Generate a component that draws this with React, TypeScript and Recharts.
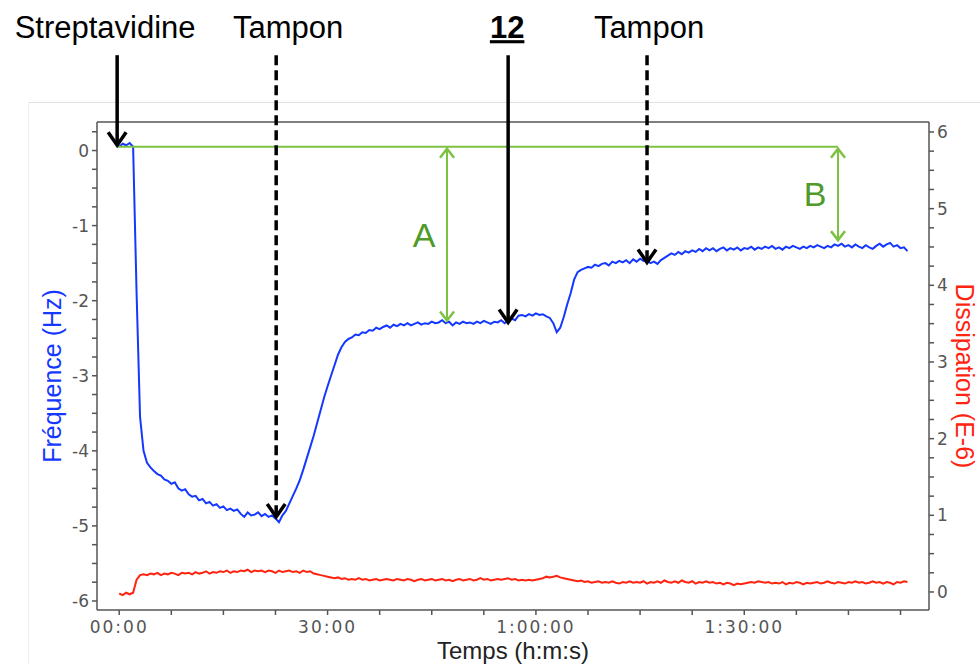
import React from 'react'
import { LineChart, Line, XAxis, YAxis, ReferenceLine } from 'recharts'

// sampling step of the QCM-D trace, in minutes
const STEP_MIN = 0.5

// Fréquence (Hz), one value every 0.5 min from 00:00
const FREQ = [
  0.05, 0.09, 0.07, 0.10, 0.05, -1.90, -3.55, -4.00, -4.16, -4.22,
  -4.27, -4.31, -4.33, -4.38, -4.40, -4.44, -4.42, -4.50, -4.53, -4.51,
  -4.58, -4.61, -4.60, -4.66, -4.64, -4.70, -4.68, -4.73, -4.71, -4.76,
  -4.74, -4.79, -4.77, -4.80, -4.78, -4.84, -4.88, -4.82, -4.86, -4.85,
  -4.82, -4.87, -4.84, -4.88, -4.86, -4.90, -4.95, -4.86, -4.80, -4.70,
  -4.60, -4.50, -4.39, -4.25, -4.10, -3.95, -3.80, -3.63, -3.46, -3.29,
  -3.14, -3.00, -2.86, -2.72, -2.62, -2.55, -2.51, -2.49, -2.45, -2.46,
  -2.42, -2.43, -2.39, -2.40, -2.36, -2.38, -2.35, -2.33, -2.36, -2.32,
  -2.34, -2.31, -2.33, -2.30, -2.33, -2.31, -2.29, -2.32, -2.30, -2.31,
  -2.28, -2.30, -2.29, -2.26, -2.30, -2.28, -2.33, -2.29, -2.31, -2.28,
  -2.30, -2.29, -2.31, -2.28, -2.30, -2.27, -2.29, -2.31, -2.28, -2.29,
  -2.26, -2.30, -2.27, -2.24, -2.26, -2.20, -2.19, -2.21, -2.18, -2.20,
  -2.17, -2.19, -2.18, -2.21, -2.23, -2.30, -2.42, -2.36, -2.22, -2.05,
  -1.90, -1.72, -1.62, -1.59, -1.57, -1.55, -1.56, -1.52, -1.54, -1.51,
  -1.50, -1.53, -1.48, -1.50, -1.47, -1.49, -1.46, -1.50, -1.45, -1.48,
  -1.44, -1.47, -1.46, -1.50, -1.48, -1.51, -1.46, -1.43, -1.40, -1.37,
  -1.39, -1.35, -1.38, -1.34, -1.36, -1.33, -1.35, -1.31, -1.34, -1.30,
  -1.33, -1.30, -1.34, -1.31, -1.29, -1.33, -1.30, -1.32, -1.29, -1.33,
  -1.30, -1.31, -1.28, -1.32, -1.29, -1.31, -1.28, -1.30, -1.27, -1.31,
  -1.29, -1.32, -1.28, -1.30, -1.27, -1.29, -1.31, -1.28, -1.30, -1.27,
  -1.29, -1.26, -1.28, -1.30, -1.27, -1.29, -1.25, -1.27, -1.24, -1.28,
  -1.26, -1.29, -1.25, -1.28, -1.30, -1.26, -1.29, -1.31, -1.27, -1.24,
  -1.28, -1.25, -1.23, -1.28, -1.26, -1.30, -1.29, -1.34,
]

// Dissipation (E-6), same time grid
const DISS = [
  -0.02, -0.04, -0.01, -0.03, -0.01, 0.16, 0.22, 0.23, 0.22, 0.24,
  0.23, 0.25, 0.22, 0.24, 0.23, 0.25, 0.24, 0.22, 0.25, 0.24,
  0.25, 0.23, 0.26, 0.24, 0.25, 0.27, 0.24, 0.26, 0.25, 0.27,
  0.26, 0.28, 0.25, 0.27, 0.26, 0.28, 0.27, 0.29, 0.26, 0.28,
  0.27, 0.28, 0.26, 0.28, 0.27, 0.25, 0.28, 0.26, 0.27, 0.28,
  0.26, 0.27, 0.25, 0.28, 0.26, 0.27, 0.24, 0.23, 0.22, 0.21,
  0.20, 0.19, 0.18, 0.19, 0.17, 0.18, 0.16, 0.17, 0.16, 0.18,
  0.16, 0.17, 0.15, 0.16, 0.17, 0.15, 0.16, 0.17, 0.16, 0.15,
  0.17, 0.16, 0.15, 0.17, 0.16, 0.14, 0.16, 0.17, 0.15, 0.16,
  0.17, 0.15, 0.16, 0.17, 0.15, 0.16, 0.14, 0.16, 0.17, 0.15,
  0.16, 0.17, 0.15, 0.16, 0.18, 0.16, 0.17, 0.15, 0.16, 0.17,
  0.16, 0.17, 0.18, 0.16, 0.17, 0.15, 0.16, 0.15, 0.16, 0.15,
  0.16, 0.17, 0.18, 0.20, 0.19, 0.20, 0.21, 0.19, 0.18, 0.17,
  0.16, 0.15, 0.14, 0.15, 0.13, 0.14, 0.12, 0.13, 0.14, 0.12,
  0.13, 0.12, 0.14, 0.12, 0.11, 0.13, 0.12, 0.14, 0.12, 0.13,
  0.12, 0.14, 0.11, 0.13, 0.12, 0.14, 0.12, 0.15, 0.13, 0.12,
  0.14, 0.12, 0.15, 0.13, 0.12, 0.14, 0.11, 0.13, 0.12, 0.14,
  0.12, 0.13, 0.11, 0.12, 0.10, 0.12, 0.11, 0.09, 0.11, 0.10,
  0.11, 0.12, 0.13, 0.12, 0.14, 0.13, 0.12, 0.13, 0.11, 0.12,
  0.11, 0.13, 0.10, 0.12, 0.11, 0.13, 0.12, 0.10, 0.12, 0.11,
  0.12, 0.13, 0.11, 0.12, 0.14, 0.12, 0.11, 0.13, 0.12, 0.11,
  0.13, 0.12, 0.14, 0.12, 0.13, 0.11, 0.12, 0.14, 0.12, 0.13,
  0.11, 0.13, 0.12, 0.10, 0.13, 0.12, 0.14, 0.13,
]

const TIME_TICKS = [0, 7.5, 15, 22.5, 30, 37.5, 45, 52.5, 60, 67.5, 75, 82.5, 90, 97.5, 105, 112.5]
const TIME_LABELS: Record<number, string> = { 0: '00:00', 30: '30:00', 60: '1:00:00', 90: '1:30:00' }
const FREQ_TICKS = [
  -6, -5.75, -5.5, -5.25, -5, -4.75, -4.5, -4.25, -4, -3.75, -3.5, -3.25, -3,
  -2.75, -2.5, -2.25, -2, -1.75, -1.5, -1.25, -1, -0.75, -0.5, -0.25, 0, 0.25,
]
const DISS_TICKS = [
  0, 0.25, 0.5, 0.75, 1, 1.25, 1.5, 1.75, 2, 2.25, 2.5, 2.75, 3,
  3.25, 3.5, 3.75, 4, 4.25, 4.5, 4.75, 5, 5.25, 5.5, 5.75, 6,
]

// injection arrows: time (min), level of the tip (Hz), caption
const INJECTIONS = [
  { t: -0.3, tip: 0.07, text: 'Streptavidine', dashed: false, bold: false, dx: -12 },
  { t: 22.6, tip: -4.88, text: 'Tampon', dashed: true, bold: false, dx: 12 },
  { t: 56.0, tip: -2.29, text: '12', dashed: false, bold: true, dx: -1 },
  { t: 76.0, tip: -1.49, text: 'Tampon', dashed: true, bold: false, dx: 2 },
]
const ARROW_TOP = 1.27

// baseline and the two shifts A and B
const BASELINE = 0.05
const BASELINE_START = -0.2
const SHIFTS = [
  { t: 47.2, to: -2.29, text: 'A' },
  { t: 103.5, to: -1.22, text: 'B' },
]

const data = FREQ.map((f, i) => ({ t: i * STEP_MIN, freq: f, diss: DISS[i] }))

const AXIS = '#555'
const BLUE = '#1438ff'
const RED = '#ff2410'
const GREEN = '#7cc242'
const GREEN_TEXT = '#4e9a2a'
const FONT = '"Liberation Sans", Arial, sans-serif'
const TICK_FONT = '"DejaVu Sans", Verdana, sans-serif'

const blackArrow = (a: typeof INJECTIONS[number]) => (p: any) => {
  const { x1, y1, x2, y2 } = p
  return (
    <g>
      <line x1={x1} y1={y1} x2={x2} y2={y2 - 2} stroke="#000" strokeWidth={3.5}
        strokeDasharray={a.dashed ? '10 5' : undefined} />
      <polyline points={`${x2 - 9},${y2 - 13} ${x2},${y2} ${x2 + 9},${y2 - 13}`}
        fill="none" stroke="#000" strokeWidth={3.5} />
      <text x={x1 + a.dx} y={y1 - 17} textAnchor="middle" fontFamily={FONT} fontSize={31}
        fontWeight={a.bold ? 700 : 400} textDecoration={a.bold ? 'underline' : undefined} fill="#000">
        {a.text}
      </text>
    </g>
  )
}

const greenArrow = (text: string) => (p: any) => {
  const { x1, y1, x2, y2 } = p
  const top = Math.min(y1, y2)
  const bot = Math.max(y1, y2)
  return (
    <g>
      <line x1={x1} y1={top + 1} x2={x2} y2={bot - 1} stroke={GREEN} strokeWidth={2} />
      <polyline points={`${x1 - 7},${top + 11} ${x1},${top + 2} ${x1 + 7},${top + 11}`}
        fill="none" stroke={GREEN} strokeWidth={2.5} />
      <polyline points={`${x1 - 7},${bot - 11} ${x1},${bot - 2} ${x1 + 7},${bot - 11}`}
        fill="none" stroke={GREEN} strokeWidth={2.5} />
      <text x={x1 - 23} y={(top + bot) / 2} textAnchor="middle" dominantBaseline="central"
        fontFamily={FONT} fontSize={34} fill={GREEN_TEXT}>{text}</text>
    </g>
  )
}

const yTitle = (text: string, color: string, cx: number, rot: number) => (p: any) => {
  const vb = p.viewBox || {}
  const cy = (vb.y ?? 122) + (vb.height ?? 488) / 2 + 10
  return (
    <text x={cx} y={cy} transform={`rotate(${rot} ${cx} ${cy})`} textAnchor="middle"
      dominantBaseline="central" fontFamily={FONT} fontSize={25} fill={color}>{text}</text>
  )
}

const xTitle = (p: any) => {
  const vb = p.viewBox || {}
  const cx = (vb.x ?? 97) + (vb.width ?? 832) / 2
  return (
    <text x={cx} y={659} textAnchor="middle" fontFamily={FONT} fontSize={24} fill="#222">
      Temps (h:m:s)
    </text>
  )
}

const tickStyle = { fontFamily: TICK_FONT, fontSize: 17, fill: '#555' }
const xTickStyle = { ...tickStyle, letterSpacing: 2 }

export default function App() {
  return (
    <div style={{ position: 'absolute', left: 0, top: 0, width: 980, height: 664, background: '#fff', overflow: 'hidden' }}>
      <div style={{ position: 'absolute', left: 28, top: 102, width: 952, height: 0, borderTop: '1px solid #e2e2e2' }} />
      <div style={{ position: 'absolute', left: 28, top: 102, width: 0, height: 562, borderLeft: '1px solid #eeeeee' }} />
      <div style={{ position: 'absolute', left: 0, top: 0 }}>
        <LineChart width={980} height={664} data={data} margin={{ top: 122, right: 0, bottom: 0, left: 0 }}>
          <XAxis dataKey="t" type="number" domain={[-3.2, 116.6]} ticks={TIME_TICKS} allowDataOverflow
            tickFormatter={(v: number) => TIME_LABELS[v] ?? ''} height={54} tickSize={5} tickMargin={6}
            stroke={AXIS} strokeWidth={1.5} tick={xTickStyle} interval={0} label={{ content: xTitle }} />
          <YAxis yAxisId="freq" domain={[-6.12, 0.38]} ticks={FREQ_TICKS} allowDataOverflow width={97}
            tickFormatter={(v: number) => (Number.isInteger(v) ? String(v) : '')} tickSize={5} tickMargin={3}
            stroke={AXIS} strokeWidth={1.5} tick={tickStyle} interval={0}
            label={{ content: yTitle('Fréquence (Hz)', BLUE, 52, -90) }} />
          <YAxis yAxisId="diss" orientation="right" domain={[-0.235, 6.13]} ticks={DISS_TICKS} allowDataOverflow
            width={51} tickFormatter={(v: number) => (Number.isInteger(v) ? String(v) : '')} tickSize={5}
            tickMargin={3} stroke={AXIS} strokeWidth={1.5} tick={tickStyle} interval={0}
            label={{ content: yTitle('Dissipation (E-6)', RED, 965, 90) }} />
          <ReferenceLine yAxisId="freq" y={0.38} stroke={AXIS} strokeWidth={1.5} />
          <Line yAxisId="diss" dataKey="diss" stroke={RED} strokeWidth={2} dot={false} isAnimationActive={false} />
          <Line yAxisId="freq" dataKey="freq" stroke={BLUE} strokeWidth={2} dot={false} isAnimationActive={false} />
          <ReferenceLine yAxisId="freq" ifOverflow="visible" stroke={GREEN} strokeWidth={2}
            segment={[{ x: BASELINE_START, y: BASELINE }, { x: SHIFTS[1].t, y: BASELINE }]} />
          {SHIFTS.map((s) => (
            <ReferenceLine key={s.text} yAxisId="freq" ifOverflow="visible"
              segment={[{ x: s.t, y: BASELINE }, { x: s.t, y: s.to }]} shape={greenArrow(s.text)} />
          ))}
          {INJECTIONS.map((a, i) => (
            <ReferenceLine key={i} yAxisId="freq" ifOverflow="visible"
              segment={[{ x: a.t, y: ARROW_TOP }, { x: a.t, y: a.tip }]} shape={blackArrow(a)} />
          ))}
        </LineChart>
      </div>
    </div>
  )
}
